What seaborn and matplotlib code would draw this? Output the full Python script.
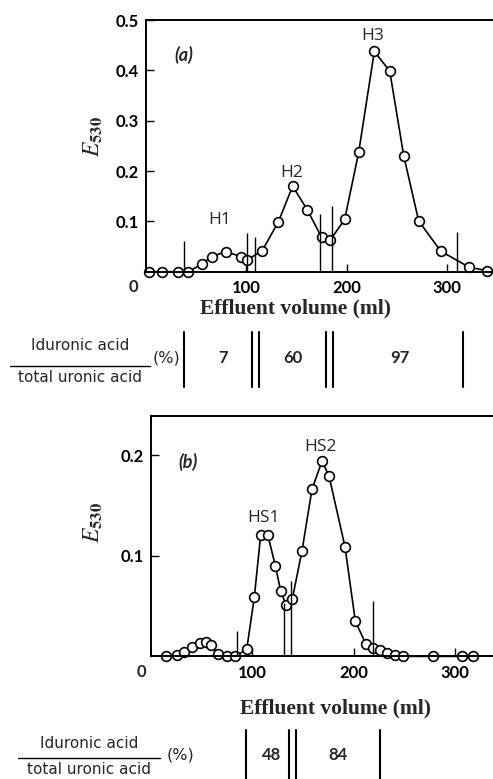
import matplotlib
matplotlib.use("Agg")
import matplotlib.pyplot as plt
import matplotlib.transforms as mtransforms
from matplotlib.lines import Line2D
import seaborn as sns
import pandas as pd

# ---------------- data ----------------
# Panel (a)
vol_a = [3.5, 16.7, 32.0, 42.6, 55.9, 65.8, 79.8, 95.0, 101.0, 116.2, 132.2, 146.4,
         161.0, 175.3, 183.9, 198.2, 212.1, 227.7, 243.0, 256.9, 271.8, 293.7, 321.9, 340.0]
e530_a = [0.0, 0.0, 0.0, 0.0, 0.015, 0.030, 0.040, 0.030, 0.023, 0.042, 0.099, 0.170,
          0.123, 0.068, 0.063, 0.104, 0.237, 0.438, 0.399, 0.231, 0.101, 0.041, 0.009, 0.002]
cuts_a = [38.6, 100.7, 109.0, 173.6, 185.9, 310.3]
cut_tops_a = [0.061, 0.076, 0.068, 0.114, 0.131, 0.078]
peak_labels_a = ["H1", "H2", "H3"]
peak_x_a = [74.0, 145.5, 226.5]
peak_y_a = [0.103, 0.196, 0.468]
table_edges_a = [38.6, 106.3, 113.2, 179.3, 186.9, 315.6]
table_vals_a = ["7", "60", "97"]
table_val_x_a = [76.7, 147.0, 253.2]

# Panel (b)
vol_b = [15.0, 25.8, 33.3, 40.6, 48.8, 55.0, 59.6, 66.8, 75.1, 83.3, 94.8, 102.3,
         108.6, 115.5, 123.0, 128.3, 133.5, 139.7, 149.3, 159.1, 169.0, 175.9, 191.6,
         201.8, 212.3, 219.5, 226.1, 232.7, 240.9, 249.1, 278.6, 306.6, 317.4]
e530_b = [0.0, 0.001, 0.004, 0.009, 0.013, 0.014, 0.011, 0.002, 0.0, 0.0, 0.007, 0.059,
          0.121, 0.121, 0.090, 0.065, 0.051, 0.057, 0.105, 0.166, 0.194, 0.179, 0.109,
          0.035, 0.012, 0.008, 0.006, 0.003, 0.001, 0.0, 0.0, 0.0, 0.0]
cuts_b = [85.7, 131.5, 138.1, 219.5]
cut_tops_b = [0.025, 0.053, 0.075, 0.055]
peak_labels_b = ["HS1", "HS2"]
peak_x_b = [111.0, 167.7]
peak_y_b = [0.137, 0.208]
table_edges_b = [94.1, 136.7, 143.3, 225.9]
table_vals_b = ["48", "84"]
table_val_x_b = [119.4, 185.0]

xticks = [100, 200, 300]
yticks_a = [0.1, 0.2, 0.3, 0.4, 0.5]
yticks_b = [0.1, 0.2]

# ---------------- style ----------------
sns.set_style("ticks")
plt.rcParams["font.family"] = ["Lato", "DejaVu Sans"]
plt.rcParams["mathtext.fontset"] = "stix"

W, H = 493, 779
fig = plt.figure(figsize=(W / 100, H / 100), dpi=100)


def fx(px):
    return px / W


def fy(py):
    return 1 - py / H


TICKFONT = dict(family=["Lato", "DejaVu Sans"], weight="bold", size=12)
LABFONT = ["Open Sans", "DejaVu Sans"]
TABFONT = ["DejaVu Sans"]


def make_panel(rect, vol, e530, xmax, ymax, yticks, cuts, tops):
    ax = fig.add_axes(rect)
    df = pd.DataFrame({"vol": vol, "e": e530})
    sns.lineplot(data=df, x="vol", y="e", ax=ax, color="black", lw=1.2,
                 marker="o", markersize=7, markerfacecolor="white",
                 markeredgecolor="black", markeredgewidth=1.2, clip_on=False,
                 sort=False)
    ax.vlines(cuts, 0, tops, color="black", lw=1.0)
    ax.set_xlim(0, xmax)
    ax.set_ylim(0, ymax)
    ax.set_xticks(xticks)
    ax.set_yticks(yticks)
    ax.set_xticklabels([str(t) for t in xticks], fontdict=TICKFONT)
    ax.set_yticklabels([f"{t:.1f}" for t in yticks], fontdict=TICKFONT)
    ax.tick_params(direction="in", length=6, width=1.0, pad=5, colors="black")
    ax.tick_params(axis="x", pad=6)
    for s in ["left", "top", "bottom"]:
        ax.spines[s].set_linewidth(1.4)
        ax.spines[s].set_color("black")
    ax.spines["right"].set_visible(False)
    ax.set_xlabel("")
    ax.set_ylabel("")
    ax.set_facecolor("white")
    return ax


# Panel (a): x px = 145.5 + 1.005*ml ; y 0 at 271.7, 0.5 at 20.2
ax_a = make_panel([fx(145.5), fy(271.7), (W - 145.5) / W, (271.7 - 20.2) / H],
                  vol_a, e530_a, (W - 145.5) / 1.005, 0.5, yticks_a, cuts_a, cut_tops_a)
# Panel (b): x px = 150.5 + 1.015*ml ; y 0 at 656.4, top at 415.7
ax_b = make_panel([fx(150.5), fy(656.4), (W - 150.5) / W, (656.4 - 415.7) / H],
                  vol_b, e530_b, (W - 150.5) / 1.015, (656.4 - 415.7) / 1007.0,
                  yticks_b, cuts_b, cut_tops_b)

for ax, labs, xs, ys in [(ax_a, peak_labels_a, peak_x_a, peak_y_a),
                         (ax_b, peak_labels_b, peak_x_b, peak_y_b)]:
    for lab, x, y in zip(labs, xs, ys):
        ax.text(x, y, lab, ha="center", va="center", fontsize=12.5, family=LABFONT)

ax_a.text(38, 0.431, "(a)", ha="center", va="center", fontsize=13,
          style="italic", weight="bold", family=["Lato", "DejaVu Sans"])
ax_b.text(37, 0.193, "(b)", ha="center", va="center", fontsize=13,
          style="italic", weight="bold", family=["Lato", "DejaVu Sans"])

# corner zeros
fig.text(fx(133), fy(287), "0", ha="center", va="center", **TICKFONT)
fig.text(fx(141.7), fy(671.7), "0", ha="center", va="center", **TICKFONT)

# axis labels
SERIF = dict(family=["Liberation Serif", "DejaVu Serif"], weight="bold", size=15.5)
fig.text(fx(296), fy(308), "Effluent volume (ml)", ha="center", va="center", **SERIF)
fig.text(fx(335), fy(708), "Effluent volume (ml)", ha="center", va="center", **SERIF)
for ylab_y in [137, 523]:
    fig.text(fx(93), fy(ylab_y), r"$\mathit{E}_{\mathbf{530}}$", rotation=90,
             ha="center", va="center", fontsize=17)


# fraction tables
def draw_table(ax, y_idu, y_line, y_tot, y_top, y_bot, y_num_txt, line_x0, line_x1,
               pct_x, edges, vals, val_x):
    cx = (line_x0 + line_x1) / 2
    fig.text(fx(cx), fy(y_idu), "Iduronic acid", ha="center", va="center",
             fontsize=11, family=TABFONT)
    fig.text(fx(cx), fy(y_tot), "total uronic acid", ha="center", va="center",
             fontsize=11, family=TABFONT)
    fig.add_artist(Line2D([fx(line_x0), fx(line_x1)], [fy(y_line), fy(y_line)],
                          color="black", lw=1.0, transform=fig.transFigure))
    fig.text(fx(pct_x), fy(y_num_txt), "(%)", ha="center", va="center",
             fontsize=11.5, family=TABFONT)
    trans = mtransforms.blended_transform_factory(ax.transData, fig.transFigure)
    for e in edges:
        ln = Line2D([e, e], [fy(y_top), fy(y_bot)], color="black", lw=1.5,
                    transform=trans, clip_on=False)
        fig.add_artist(ln)
    for v, x in zip(vals, val_x):
        fig.text(x, fy(y_num_txt), v, transform=trans, ha="center", va="center",
                 fontsize=12, weight="bold", family=["Lato", "DejaVu Sans"])


draw_table(ax_a, 345, 366, 377, 332, 387, 358, 10, 150, 167,
           table_edges_a, table_vals_a, table_val_x_a)
draw_table(ax_b, 744, 758, 769, 730, 780, 755, 18, 160, 180,
           table_edges_b, table_vals_b, table_val_x_b)

fig.savefig("out.png", dpi=100, facecolor="white")
